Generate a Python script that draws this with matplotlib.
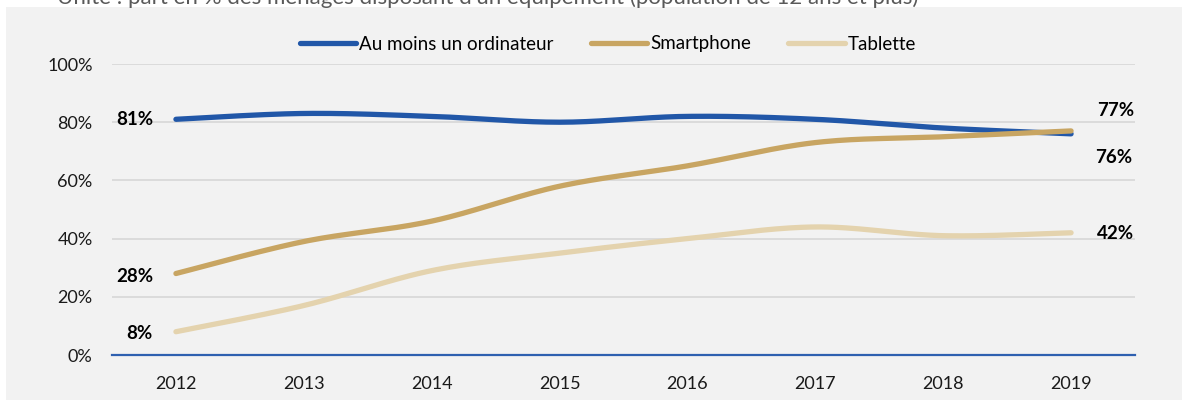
import numpy as np
import matplotlib
matplotlib.use('Agg')
from matplotlib import pyplot as plt
from matplotlib.patches import Rectangle

plt.rcParams['font.family'] = ['Lato', 'DejaVu Sans']

YEARS = ['2012', '2013', '2014', '2015', '2016', '2017', '2018', '2019']
ORDINATEUR = [81, 83, 82, 80, 82, 81, 78, 76]
SMARTPHONE = [28, 39, 46, 58, 65, 73, 75, 77]
TABLETTE = [8, 17, 29, 35, 40, 44, 41, 42]
SERIES = ['Au moins un ordinateur', 'Smartphone', 'Tablette']
COLORS = ['#2157A8', '#C8A562', '#E4D3AE']
UNIT = "Unité : part en % des ménages disposant d'un équipement (population de 12 ans et plus)"


def smooth(xs, ys, n=30):
    # Excel-like smoothed line (Catmull-Rom as cubic Bezier)
    xs = np.asarray(xs, float)
    ys = np.asarray(ys, float)
    px = np.concatenate([[xs[0]], xs, [xs[-1]]])
    py = np.concatenate([[ys[0]], ys, [ys[-1]]])
    outx, outy = [], []
    t = np.linspace(0, 1, n)
    for i in range(1, len(px) - 2):
        p0 = np.array([px[i], py[i]])
        p3 = np.array([px[i + 1], py[i + 1]])
        p1 = p0 + (np.array([px[i + 1], py[i + 1]]) - np.array([px[i - 1], py[i - 1]])) / 6
        p2 = p3 - (np.array([px[i + 2], py[i + 2]]) - np.array([px[i], py[i]])) / 6
        b = ((1 - t) ** 3)[:, None] * p0 + (3 * (1 - t) ** 2 * t)[:, None] * p1 \
            + (3 * (1 - t) * t ** 2)[:, None] * p2 + (t ** 3)[:, None] * p3
        outx.extend(b[:, 0])
        outy.extend(b[:, 1])
    return outx, outy


fig = plt.figure(figsize=(11.82, 4.07), dpi=100, facecolor='white')
fig.patches.append(Rectangle((6 / 1182, 1 - 400 / 407), 1, (400 - 7) / 407,
                             transform=fig.transFigure, facecolor='#F2F2F2',
                             edgecolor='none', zorder=-5))
fig.text(57 / 1182, 1 - 4 / 407, UNIT, fontsize=16, color='#595959', va='baseline')

ax = fig.add_axes([112 / 1182, 1 - 355 / 407, (1135 - 112) / 1182, (355 - 64) / 407])
ax.set_facecolor('none')

x = np.arange(len(YEARS))
for vals, name, col in zip([ORDINATEUR, SMARTPHONE, TABLETTE], SERIES, COLORS):
    sx, sy = smooth(x, vals)
    ax.plot(sx, sy, color=col, lw=3.8, solid_capstyle='round', label=name, zorder=3)

ax.set_xlim(-0.5, len(YEARS) - 0.5)
ax.set_ylim(0, 100)
ax.set_yticks(range(0, 101, 20))
ax.set_yticklabels([f'{v}%' for v in range(0, 101, 20)])
ax.set_xticks(x)
ax.set_xticklabels(YEARS)
ax.tick_params(length=0, labelsize=13, colors='#1a1a1a')
ax.tick_params(axis='y', pad=14)
ax.tick_params(axis='x', pad=15)
ax.grid(axis='y', color='#D9D9D9', lw=1.3, zorder=1)
for s in ['top', 'right', 'left']:
    ax.spines[s].set_visible(False)
ax.spines['bottom'].set_color('#2E60B0')
ax.spines['bottom'].set_linewidth(1.6)
ax.spines['bottom'].set_zorder(2)

lab = dict(fontsize=13.5, fontweight='bold', color='black', va='center')
ax.text(x[0] - 0.18, ORDINATEUR[0], f'{ORDINATEUR[0]}%', ha='right', **lab)
ax.text(x[0] - 0.18, SMARTPHONE[0] - 1, f'{SMARTPHONE[0]}%', ha='right', **lab)
ax.text(x[0] - 0.18, TABLETTE[0] - 0.5, f'{TABLETTE[0]}%', ha='right', **lab)
ax.text(x[-1] + 0.35, SMARTPHONE[-1] + 7, f'{SMARTPHONE[-1]}%', ha='center', **lab)
ax.text(x[-1] + 0.33, ORDINATEUR[-1] - 8, f'{ORDINATEUR[-1]}%', ha='center', **lab)
ax.text(x[-1] + 0.35, TABLETTE[-1] - 0.4, f'{TABLETTE[-1]}%', ha='center', **lab)

fig.legend(loc='center', bbox_to_anchor=(608 / 1182, 1 - 44 / 407), ncol=3,
           frameon=False, fontsize=13.5, handlelength=3.0, handletextpad=0.15,
           columnspacing=2.0)

fig.savefig('out.png', dpi=100)
